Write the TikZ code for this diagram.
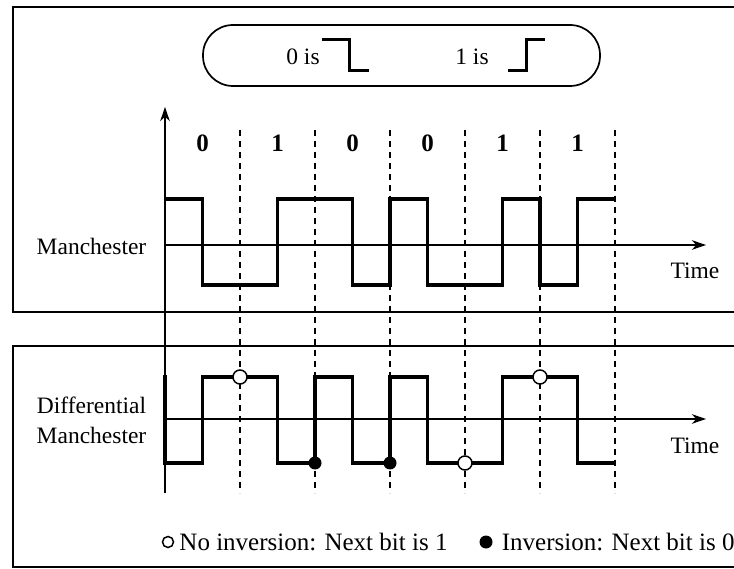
\documentclass[tikz,border=0pt]{standalone}
\usepackage{fontspec}
\setmainfont{Liberation Serif}
\usetikzlibrary{arrows.meta,positioning}
\tikzset{
  frm/.style={line width=1.7pt},
  wav/.style={line width=3.4pt},
  ax/.style={-{Stealth[length=5mm,width=3.4mm]},line width=1.4pt},
  grd/.style={dash pattern=on 6pt off 5pt,line width=1.1pt},
  bit/.style={font=\fontsize{25}{28}\selectfont\bfseries,inner sep=0pt},
  lbl/.style={font=\fontsize{23.5}{30}\selectfont,align=center,inner sep=0pt},
  leg/.style={font=\fontsize{25}{30}\selectfont,inner sep=0pt},
  pill/.style={draw,line width=1.7pt,rounded corners=30pt,
               minimum width=397pt,minimum height=61pt},
  opn/.style={circle,draw,fill=white,line width=1.5pt,inner sep=0pt,minimum size=14pt},
  fil/.style={circle,fill=black,inner sep=0pt,minimum size=13pt},
}

\begin{document}
\begin{tikzpicture}[x=1pt,y=-1pt]
  \useasboundingbox (0,0) rectangle (734,569);
  % panels
  \draw[frm] (734,7) -- (13,7) -- (13,312) -- (734,312);
  \draw[frm] (734,346) -- (13,346) -- (13,567) -- (734,567);
  % key
  \node[pill] (key) at (401.5,55.5) {};
  \node[lbl] (k0) at (303,57) {0 is};
  \draw[line width=3pt] (322,40) -| (349,71) -- (369,71);
  \node[lbl] (k1) at (472,57) {1 is};
  \draw[line width=3pt] (508,71) -| (526,40) -- (545,40);
  % bits and bit boundaries
  \foreach \b [count=\i] in {0,1,0,0,1,1}
    \node[bit] (b\i) at (127.5+75*\i,143) {\b};
  \foreach \i in {1,...,6}
    \draw[grd] (165+75*\i,130) -- (165+75*\i,493);
  % axes
  \coordinate (yb) at (165,493);
  \coordinate (yt) at (165,107);
  \coordinate (m0) at (165,245);
  \coordinate (m1) at (706,245);
  \coordinate (d0) at (165,419);
  \coordinate (d1) at (706,419);
  \draw[ax] (yb) -- (yt);
  \draw[ax] (m0) -- (m1);
  \draw[ax] (d0) -- (d1);
  \node[lbl] (man) at (91.5,246) {Manchester};
  \node[lbl] (dif) at (91.5,420) {Differential\\Manchester};
  \node[lbl] (tm1) at (695,271) {Time};
  \node[lbl] (tm2) at (695,446) {Time};
  % signals
  \draw[wav] (165,199) -| (202.5,285) -| (277.5,199) -| (352.5,285) -| (390,199)
    -| (427.5,285) -| (502.5,199) -| (540,285) -| (577.5,199) -- (615,199);
  \draw[wav] (165,375) -- (165,463) -| (202.5,377) -| (277.5,463) -| (315,377)
    -| (352.5,463) -| (390,377) -| (427.5,463) -| (502.5,377) -| (577.5,463) -- (615,463);
  \node[opn] (n1) at (240,377) {};
  \node[fil] (i1) at (315,463) {};
  \node[fil] (i2) at (390,463) {};
  \node[opn] (n2) at (465,463) {};
  \node[opn] (n3) at (540,377) {};
  % legend
  \node[opn,minimum size=11pt] (ko) at (168,542) {};
  \node[leg,right=5pt of ko] (kt0) {No inversion: Next bit is 1};
  \node[fil] (kf) at (486,542) {};
  \node[leg,right=9pt of kf] (kt1) {Inversion: Next bit is 0};
\end{tikzpicture}
\end{document}
